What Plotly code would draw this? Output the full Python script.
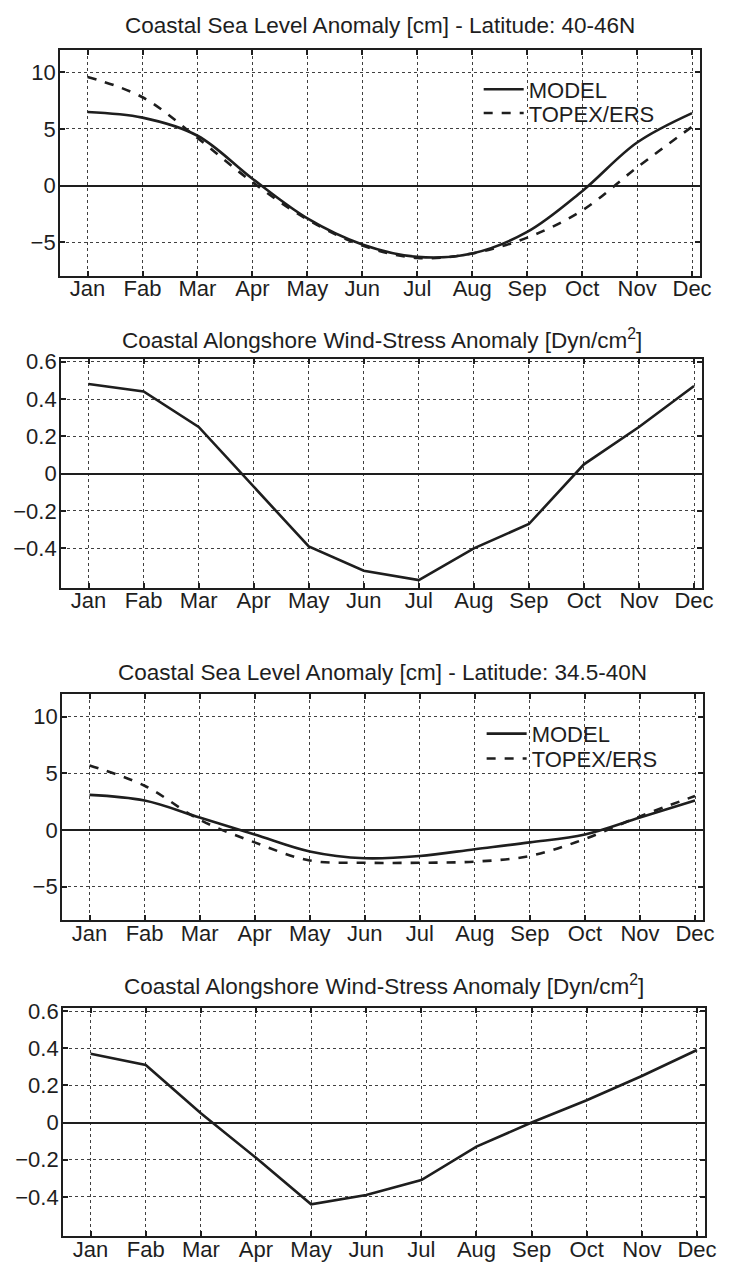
import plotly.graph_objects as go

# Month axis
month_num = [1, 2, 3, 4, 5, 6, 7, 8, 9, 10, 11, 12]
month_labels = ["Jan", "Fab", "Mar", "Apr", "May", "Jun", "Jul", "Aug", "Sep", "Oct", "Nov", "Dec"]

# Coastal sea level anomaly [cm], 40-46N
sla_north_model = [6.5, 6.0, 4.4, 0.6, -2.9, -5.2, -6.3, -6.0, -4.1, -0.5, 3.8, 6.4]
sla_north_topex = [9.6, 7.8, 4.2, 0.3, -3.0, -5.3, -6.4, -6.0, -4.6, -2.2, 1.6, 5.2]

# Alongshore wind-stress anomaly [Dyn/cm2], 40-46N
wind_north = [0.48, 0.44, 0.25, -0.07, -0.39, -0.52, -0.57, -0.40, -0.27, 0.05, 0.25, 0.47]

# Coastal sea level anomaly [cm], 34.5-40N
sla_south_model = [3.1, 2.6, 1.1, -0.4, -1.9, -2.5, -2.3, -1.7, -1.1, -0.4, 1.1, 2.6]
sla_south_topex = [5.7, 3.9, 0.9, -1.1, -2.7, -2.9, -2.9, -2.8, -2.3, -0.8, 1.2, 3.0]

# Alongshore wind-stress anomaly [Dyn/cm2], 34.5-40N
wind_south = [0.37, 0.31, 0.05, -0.19, -0.44, -0.39, -0.31, -0.13, 0.0, 0.12, 0.25, 0.39]

sla_ticks = [-5, 0, 5, 10]
sla_ticktext = ["\u22125", "0", "5", "10"]
wind_ticks = [-0.4, -0.2, 0, 0.2, 0.4, 0.6]
wind_ticktext = ["\u22120.4", "\u22120.2", "0", "0.2", "0.4", "0.6"]

titles = [
    "Coastal Sea Level Anomaly [cm] - Latitude: 40-46N",
    "Coastal Alongshore Wind-Stress Anomaly [Dyn/cm<sup>2</sup>]",
    "Coastal Sea Level Anomaly [cm] - Latitude: 34.5-40N",
    "Coastal Alongshore Wind-Stress Anomaly [Dyn/cm<sup>2</sup>]",
]

W, H = 731, 1268
FONT = "Liberation Sans, Arial, Helvetica, sans-serif"
INK = "#1e1e1e"

# panel boxes in pixels: (left, right, top, bottom)
boxes = [
    (61, 711, 41, 269),
    (62, 713, 352, 583),
    (63, 714, 690, 918),
    (64, 716, 1006, 1236),
]
title_y = [17, 332, 668, 983]

fig = go.Figure()

line_model = dict(color=INK, width=2.6, shape="spline", smoothing=1.0)
line_topex = dict(color=INK, width=2.6, dash="dash", shape="spline", smoothing=1.0)

fig.add_trace(go.Scatter(x=month_num, y=sla_north_model, mode="lines", name="MODEL",
                         line=line_model, xaxis="x", yaxis="y", legend="legend"))
fig.add_trace(go.Scatter(x=month_num, y=sla_north_topex, mode="lines", name="TOPEX/ERS",
                         line=line_topex, xaxis="x", yaxis="y", legend="legend2"))
fig.add_trace(go.Scatter(x=month_num, y=wind_north, mode="lines", showlegend=False,
                         line=dict(color=INK, width=2.6), xaxis="x2", yaxis="y2"))
fig.add_trace(go.Scatter(x=month_num, y=sla_south_model, mode="lines", name="MODEL",
                         line=line_model, xaxis="x3", yaxis="y3", legend="legend3"))
fig.add_trace(go.Scatter(x=month_num, y=sla_south_topex, mode="lines", name="TOPEX/ERS",
                         line=line_topex, xaxis="x3", yaxis="y3", legend="legend4"))
fig.add_trace(go.Scatter(x=month_num, y=wind_south, mode="lines", showlegend=False,
                         line=dict(color=INK, width=2.6), xaxis="x4", yaxis="y4"))

axis_common = dict(
    showline=True, linecolor=INK, linewidth=2, mirror="ticks",
    ticks="inside", ticklen=5, tickcolor=INK, tickwidth=1.5,
    showgrid=True, gridcolor="rgba(30,30,30,0.85)", gridwidth=1, griddash="dot",
    tickfont=dict(family=FONT, size=22, color=INK),
    fixedrange=True,
)

layout = dict(
    width=W, height=H,
    margin=dict(l=0, r=0, t=0, b=0),
    paper_bgcolor="white", plot_bgcolor="white",
    font=dict(family=FONT, color=INK),
    annotations=[],
)

for i, (l, r, t, b) in enumerate(boxes):
    n = "" if i == 0 else str(i + 1)
    is_sla = i in (0, 2)
    layout["xaxis" + n] = dict(
        axis_common,
        domain=[l / W, r / W], anchor="y" + n,
        range=[0.5, 12.15], tickvals=month_num, ticktext=month_labels,
        zeroline=False, ticklabelstandoff=-8,
    )
    layout["yaxis" + n] = dict(
        axis_common,
        domain=[1 - b / H, 1 - t / H], anchor="x" + n,
        range=[-8, 12] if is_sla else [-0.612, 0.617],
        tickvals=sla_ticks if is_sla else wind_ticks,
        ticktext=sla_ticktext if is_sla else wind_ticktext,
        zeroline=True, zerolinecolor=INK, zerolinewidth=2.2,
        ticklabelstandoff=-2,
    )
    layout["annotations"].append(dict(
        text=titles[i], xref="paper", yref="paper",
        x=(l + r) / 2 / W, y=1 - title_y[i] / H,
        xanchor="center", yanchor="middle", showarrow=False,
        font=dict(family=FONT, size=22.5, color=INK),
    ))

# one single-entry legend per row, so the rows can sit close together
legend_style = dict(
    bgcolor="rgba(0,0,0,0)", borderwidth=0,
    font=dict(family=FONT, size=22, color=INK),
    xanchor="left", yanchor="middle", itemwidth=40,
)
legend_rows = [(486, 81), (486, 105), (489, 730), (489, 755)]
for k, (lx, ly) in enumerate(legend_rows):
    key = "legend" if k == 0 else "legend" + str(k + 1)
    layout[key] = dict(legend_style, x=lx / W, y=1 - ly / H)

fig.update_layout(**layout)
fig.write_html("out.html")
